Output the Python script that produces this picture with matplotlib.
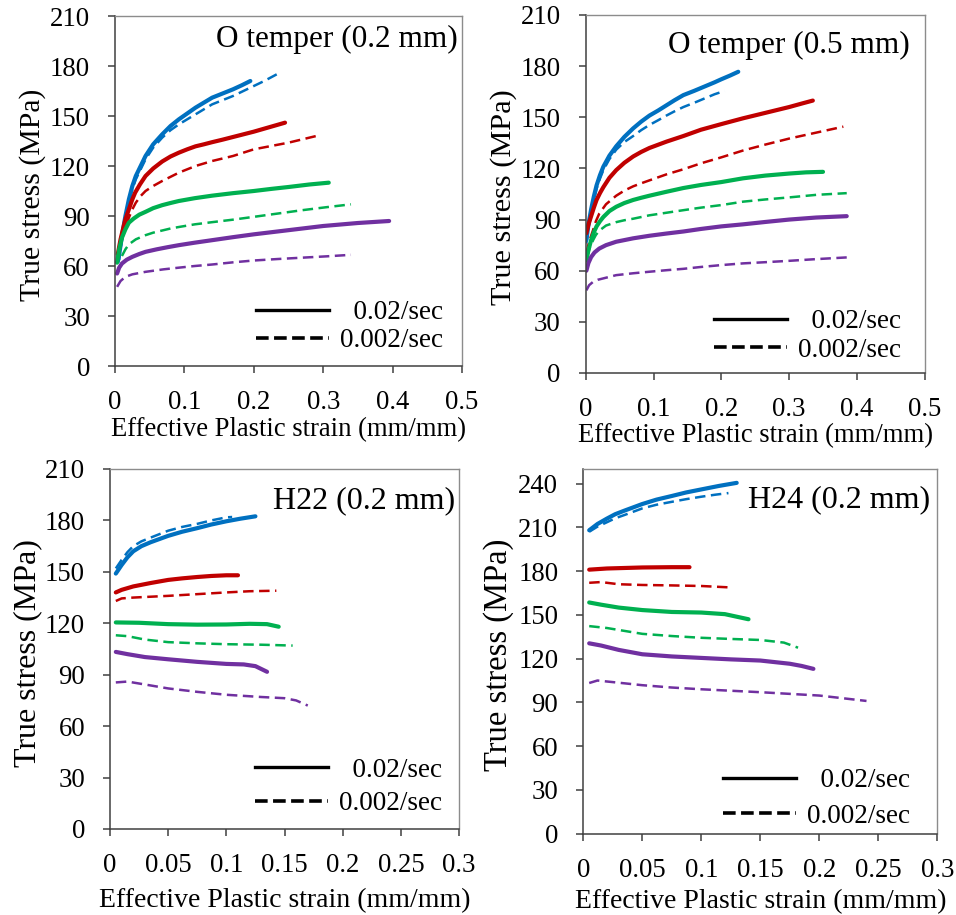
import matplotlib
matplotlib.use("Agg")
import matplotlib.pyplot as plt
from matplotlib.lines import Line2D
from matplotlib.ticker import FuncFormatter, MultipleLocator

plt.rcParams['font.family'] = ['Liberation Serif', 'DejaVu Serif']

# ---------------- data: (effective plastic strain, true stress MPa) ----------------
# Panel 1: O temper (0.2 mm)
o02_blue_fast = [(0.005,64),(0.01,78),(0.015,90),(0.02,100),(0.025,108),(0.03,114),(0.037,120),(0.044,126),(0.055,133),
                 (0.068,139),(0.08,144),(0.092,148),(0.104,151.5),(0.116,155),(0.128,158),(0.14,161),(0.155,163.5),
                 (0.17,166),(0.183,168.5),(0.195,171)]
o02_blue_slow = [(0.005,62),(0.01,76),(0.015,88),(0.02,98),(0.025,106),(0.03,112),(0.037,118),(0.044,124),(0.055,131),
                 (0.068,137),(0.08,141.5),(0.092,145),(0.104,148),(0.116,151),(0.128,154),(0.14,157),(0.155,159.5),
                 (0.17,162),(0.185,165),(0.2,168),(0.215,171),(0.233,175)]
o02_red_fast = [(0.004,67),(0.008,76),(0.012,83),(0.015,88),(0.02,94),(0.025,100),(0.029,104),(0.036,109),(0.044,114),
                (0.055,118.5),(0.068,122.7),(0.08,125.7),(0.092,128),(0.104,130),(0.116,131.8),(0.128,133),
                (0.14,134.3),(0.155,135.8),(0.17,137.4),(0.185,139),(0.2,140.6),(0.22,143),(0.245,146)]
o02_red_slow = [(0.01,76),(0.015,83),(0.02,89),(0.025,94),(0.03,98),(0.037,102),(0.044,105),(0.055,108),(0.068,111),
                (0.08,113.5),(0.092,116),(0.104,118),(0.116,120),(0.128,121.5),(0.14,123),(0.155,124.5),(0.17,126),
                (0.185,128),(0.2,130),(0.225,132),(0.25,134),(0.27,136),(0.29,138)]
o02_green_fast = [(0.003,62),(0.006,70),(0.01,77),(0.015,82),(0.02,86),(0.027,88.5),(0.035,90.8),(0.044,92.5),
                  (0.055,94.7),(0.068,96.5),(0.08,97.8),(0.092,99),(0.115,100.7),(0.14,102.2),(0.17,103.7),
                  (0.2,105),(0.226,106.3),(0.25,107.4),(0.28,108.9),(0.308,110)]
o02_green_slow = [(0.01,66),(0.015,70),(0.02,73),(0.03,76),(0.044,78.5),(0.055,80),(0.068,81.3),(0.08,82.5),
                  (0.092,83.4),(0.115,85),(0.14,86.3),(0.17,87.8),(0.2,89.5),(0.235,91.5),(0.27,93.5),
                  (0.305,95.3),(0.34,97)]
o02_purple_fast = [(0.003,55.5),(0.006,59),(0.01,61.5),(0.017,63.8),(0.025,65.5),(0.035,67.2),(0.044,68.5),(0.06,70),
                   (0.076,71.3),(0.092,72.5),(0.115,74),(0.14,75.5),(0.17,77.3),(0.2,79),(0.25,81.5),(0.3,84),
                   (0.35,85.8),(0.395,87)]
o02_purple_slow = [(0.003,47.5),(0.008,51),(0.015,53.5),(0.025,55),(0.044,56.5),(0.07,58),(0.092,59),(0.115,60),
                   (0.14,60.9),(0.17,62.2),(0.2,63.3),(0.235,64.2),(0.27,65),(0.305,65.8),(0.34,66.7)]

# Panel 2: O temper (0.5 mm)
o05_blue_fast = [(0.001,78),(0.004,87),(0.008,96),(0.012,103.5),(0.016,110),(0.021,116),(0.026,121),(0.035,127.5),
                 (0.045,133),(0.057,138.5),(0.07,143.5),(0.082,147.5),(0.094,151),(0.107,154),(0.119,157),
                 (0.131,160),(0.144,163),(0.16,165.5),(0.175,168),(0.19,170.5),(0.2,172.3),(0.213,174.5),(0.225,176.7)]
o05_blue_slow = [(0.001,76),(0.004,85),(0.008,94),(0.012,101.5),(0.016,108),(0.021,114),(0.026,119),(0.035,125.5),
                 (0.045,131),(0.057,135.5),(0.07,139),(0.082,142.5),(0.094,145.5),(0.107,148.3),(0.119,151),
                 (0.131,153.5),(0.144,156),(0.16,158.5),(0.175,161),(0.19,163.5),(0.205,165.5)]
o05_red_fast = [(0.001,82),(0.004,87),(0.008,92),(0.012,97),(0.016,101.5),(0.021,105.5),(0.026,109),(0.035,114.5),
                (0.045,119),(0.057,123.3),(0.07,127),(0.082,129.7),(0.094,132),(0.119,135.7),(0.144,139),
                (0.17,142.7),(0.2,146),(0.232,149.4),(0.265,152.6),(0.3,156),(0.32,158.2),(0.335,159.8)]
o05_red_slow = [(0.001,70),(0.005,77),(0.011,84),(0.015,89),(0.02,93.5),(0.03,99),(0.045,104),(0.057,107),
                (0.07,109.5),(0.082,111.3),(0.094,113),(0.119,116.5),(0.144,119.5),(0.17,123),(0.2,126.5),
                (0.232,130.5),(0.265,134),(0.3,137.5),(0.34,141),(0.38,144.5)]
o05_green_fast = [(0.001,66),(0.004,72),(0.008,78),(0.012,82.5),(0.016,86),(0.021,89),(0.026,91.5),(0.035,95),
                  (0.045,97.5),(0.057,99.7),(0.07,101.5),(0.082,102.8),(0.094,104),(0.119,106.3),(0.144,108.5),
                  (0.17,110.3),(0.2,112),(0.232,114.2),(0.265,115.8),(0.3,117),(0.325,117.7),(0.35,118)]
o05_green_slow = [(0.002,68),(0.006,73.5),(0.011,78),(0.015,81),(0.02,83.5),(0.03,86.5),(0.045,88.5),(0.057,89.6),
                  (0.07,90.5),(0.094,92.5),(0.119,94),(0.144,95.5),(0.17,97),(0.2,98.5),(0.232,100.5),
                  (0.265,101.8),(0.3,103),(0.34,104.5),(0.385,105.5)]
o05_purple_fast = [(0.001,60),(0.004,64.5),(0.008,68),(0.013,70.7),(0.02,73),(0.03,75),(0.045,77),(0.07,79),
                   (0.094,80.5),(0.119,81.8),(0.144,83),(0.17,84.5),(0.2,86),(0.232,87.2),(0.265,88.6),(0.3,90),
                   (0.34,91.2),(0.385,92)]
o05_purple_slow = [(0.001,48.5),(0.005,51.5),(0.011,53.5),(0.018,54.7),(0.026,55.5),(0.045,57.4),(0.07,58.5),
                   (0.094,59.4),(0.119,60.3),(0.144,61.1),(0.17,62.2),(0.2,63.3),(0.232,64.3),(0.265,65),
                   (0.3,65.8),(0.34,66.8),(0.385,67.8)]

# Panel 3: H22 (0.2 mm)
h22_blue_fast = [(0.005,149),(0.01,154),(0.015,158.5),(0.02,162),(0.027,165),(0.035,167.3),(0.05,171),(0.062,173.4),
                 (0.075,175.5),(0.087,177.6),(0.1,179.5),(0.112,181),(0.125,182.4)]
h22_blue_slow = [(0.005,152),(0.01,157),(0.015,161.5),(0.02,165),(0.027,167.8),(0.035,170),(0.05,174),(0.062,176.2),
                 (0.075,178),(0.087,180),(0.1,181.8),(0.105,182)]
h22_red_fast = [(0.005,138),(0.01,139.5),(0.02,141.5),(0.035,143.5),(0.05,145.3),(0.062,146.2),(0.075,147),
                (0.087,147.6),(0.1,148),(0.11,148)]
h22_red_slow = [(0.005,133),(0.01,134.5),(0.02,135),(0.05,136),(0.075,137),(0.1,138),(0.12,138.7),(0.143,139)]
h22_green_fast = [(0.005,120.5),(0.025,120.3),(0.05,119.5),(0.075,119.2),(0.1,119.3),(0.12,119.7),(0.135,119.5),
                  (0.145,118)]
h22_green_slow = [(0.005,113),(0.015,112.5),(0.03,110.5),(0.05,109),(0.075,108.3),(0.1,107.8),(0.13,107.5),
                  (0.157,107)]
h22_purple_fast = [(0.005,103.3),(0.015,102),(0.03,100.3),(0.05,99),(0.075,97.5),(0.1,96.3),(0.115,96),
                   (0.125,95),(0.135,91.7)]
h22_purple_slow = [(0.005,85.5),(0.015,86),(0.03,84.3),(0.05,82),(0.075,80),(0.1,78.3),(0.13,77),(0.15,76.3),
                   (0.16,75),(0.17,72)]

# Panel 4: H24 (0.2 mm)
h24_blue_fast = [(0.005,208),(0.012,212.3),(0.02,216),(0.027,219),(0.035,221.5),(0.05,226),(0.062,229),(0.075,231.5),
                 (0.087,233.9),(0.1,236),(0.115,238.4),(0.13,240.5)]
h24_blue_slow = [(0.005,207),(0.012,210.5),(0.02,213.5),(0.027,216.2),(0.035,218.5),(0.05,223),(0.062,225.5),
                 (0.075,227.5),(0.087,229.3),(0.1,231),(0.112,232.4),(0.123,233.5)]
h24_red_fast = [(0.005,181),(0.02,181.8),(0.05,182.5),(0.075,182.7),(0.09,182.7)]
h24_red_slow = [(0.005,172),(0.015,172.5),(0.03,171),(0.05,170.5),(0.075,170.2),(0.1,169.8),(0.125,168.8)]
h24_green_fast = [(0.005,158.5),(0.015,157),(0.03,155),(0.05,153.3),(0.075,152),(0.1,151.6),(0.12,150.5),(0.14,147)]
h24_green_slow = [(0.005,142.3),(0.02,141),(0.05,137),(0.075,135.5),(0.1,134.3),(0.125,133.5),(0.15,132.8),
                  (0.17,131),(0.182,127.5)]
h24_purple_fast = [(0.005,130.5),(0.015,129),(0.03,126),(0.05,123),(0.075,121.5),(0.1,120.5),(0.125,119.5),
                   (0.15,118.7),(0.175,116.5),(0.185,115),(0.195,113)]
h24_purple_slow = [(0.005,103.3),(0.012,105),(0.03,103.5),(0.05,101.8),(0.075,100.2),(0.1,99),(0.125,98),
                   (0.15,97),(0.2,94.7),(0.24,91)]

panel_titles = ["O temper (0.2 mm)", "O temper (0.5 mm)", "H22 (0.2 mm)", "H24 (0.2 mm)"]
rate_labels = ["  0.02/sec", "0.002/sec"]
x_label = "Effective Plastic strain (mm/mm)"
y_label = "True stress (MPa)"

colors = {"blue": "#0070C0", "red": "#C00000", "green": "#00B050", "purple": "#7030A0"}

panels = [
    dict(curves=[("blue", o02_blue_fast, o02_blue_slow), ("red", o02_red_fast, o02_red_slow),
                 ("green", o02_green_fast, o02_green_slow), ("purple", o02_purple_fast, o02_purple_slow)],
         rect=[115, 16, 462, 366], xmax=0.5, xstep=0.1, ymax=210, tsize=22.5,
         title_off=(4, 16), leg=(0.945, 0.037), lsp=0.11, xl=19.2, xly=-0.145, yl=21.4, ylx=-0.2),
    dict(curves=[("blue", o05_blue_fast, o05_blue_slow), ("red", o05_red_fast, o05_red_slow),
                 ("green", o05_green_fast, o05_green_slow), ("purple", o05_purple_fast, o05_purple_slow)],
         rect=[585.7, 15, 924.7, 373], xmax=0.5, xstep=0.1, ymax=210, tsize=22.5,
         title_off=(15, 23), leg=(0.93, 0.028), lsp=0.13, xl=19.2, xly=-0.14, yl=21.8, ylx=-0.203),
    dict(curves=[("blue", h22_blue_fast, h22_blue_slow), ("red", h22_red_fast, h22_red_slow),
                 ("green", h22_green_fast, h22_green_slow), ("purple", h22_purple_fast, h22_purple_slow)],
         rect=[110, 469, 459, 829], xmax=0.3, xstep=0.05, ymax=210, tsize=23,
         title_off=(4, 24), leg=(0.951, 0.036), lsp=0.3, xl=20, xly=-0.165, yl=23, ylx=-0.195),
    dict(curves=[("blue", h24_blue_fast, h24_blue_slow), ("red", h24_red_fast, h24_red_slow),
                 ("green", h24_green_fast, h24_green_slow), ("purple", h24_purple_fast, h24_purple_slow)],
         rect=[583.3, 469, 937.3, 833.7], xmax=0.3, xstep=0.05, ymax=250, tsize=23,
         title_off=(7, 23), leg=(0.923, 0.013), lsp=0.4, xl=20, xly=-0.152, yl=23.5, ylx=-0.195),
]

W, H = 956, 915
fig = plt.figure(figsize=(W / 100, H / 100), dpi=100)

fmt = FuncFormatter(lambda v, p: ("%g" % round(v, 4)))

for i, pc in enumerate(panels):
    l, t, r, b = pc["rect"]
    ax = fig.add_axes([l / W, 1 - b / H, (r - l) / W, (b - t) / H])
    for cname, fast, slow in pc["curves"]:
        fx, fy = zip(*fast)
        sx, sy = zip(*slow)
        ax.plot(sx, sy, color=colors[cname], lw=1.8, ls=(0, (4.2, 2.2)))
        ax.plot(fx, fy, color=colors[cname], lw=3.0, solid_capstyle="round", solid_joinstyle="round")
    ax.set_xlim(0, pc["xmax"])
    ax.set_ylim(0, pc["ymax"])
    ax.xaxis.set_major_locator(MultipleLocator(pc["xstep"]))
    ax.yaxis.set_major_locator(MultipleLocator(30))
    ax.xaxis.set_major_formatter(fmt)
    ax.yaxis.set_major_formatter(fmt)
    ax.tick_params(axis="both", direction="out", length=5, width=1.1, colors="#404040",
                   labelcolor="black", labelsize=19.3)
    ax.tick_params(axis="y", pad=13)
    ax.tick_params(axis="x", pad=12.5)
    for s in ["left", "bottom"]:
        ax.spines[s].set_color("#404040")
        ax.spines[s].set_linewidth(1.1)
    for s in ["top", "right"]:
        ax.spines[s].set_color("#8c8c8c")
        ax.spines[s].set_linewidth(1.0)
    ax.set_xlabel(x_label, fontsize=pc["xl"])
    ax.set_ylabel(y_label, fontsize=pc["yl"])
    ax.yaxis.set_label_coords(pc["ylx"], 0.49)
    ax.xaxis.set_label_coords(0.5, pc["xly"])
    ox, oy = pc["title_off"]
    ax.annotate(panel_titles[i], xy=(1, 1), xycoords="axes fraction",
                xytext=(-ox * 0.72, -(oy - 7) * 0.72), textcoords="offset points",
                ha="right", va="top", fontsize=pc["tsize"])
    handles = [Line2D([], [], color="black", lw=2.4),
               Line2D([], [], color="black", lw=2.6, ls=(0, (3.5, 1.5)))]
    ax.legend(handles, rate_labels, loc="lower right", bbox_to_anchor=pc["leg"],
              frameon=False, fontsize=19.5, handlelength=2.7, handletextpad=0.4,
              labelspacing=pc["lsp"], borderpad=0, borderaxespad=0)

fig.savefig("out.png", dpi=100)
